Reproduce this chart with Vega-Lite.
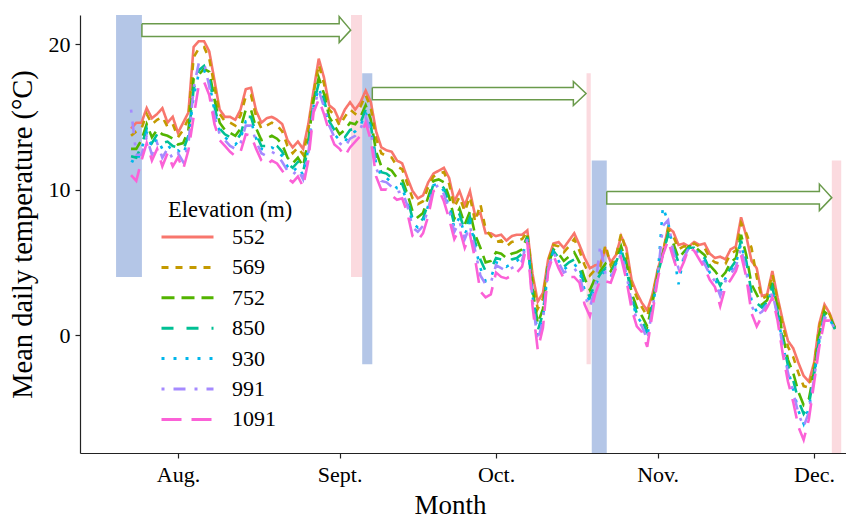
{
  "$schema": "https://vega.github.io/schema/vega-lite/v6.json",
  "width": 766,
  "height": 438,
  "autosize": {"type": "none"},
  "padding": {"left": 80, "top": 15, "right": 0, "bottom": 68},
  "background": "white",
  "config": {
    "view": {"stroke": null},
    "font": "Liberation Serif",
    "axis": {
      "grid": false,
      "domainColor": "#222",
      "tickColor": "#222",
      "domainWidth": 1.2,
      "tickWidth": 1.2,
      "tickSize": 5,
      "labelColor": "#000",
      "titleColor": "#000",
      "labelFont": "Liberation Serif",
      "titleFont": "Liberation Serif",
      "labelFontSize": 22,
      "titleFontSize": 27,
      "titleFontWeight": "normal"
    }
  },
  "datasets": {
    "temps": [
      {"date":"2019-07-23","552":14.2,"569":13.7,"752":12.8,"850":12.3,"930":12.0,"991":15.5,"1091":11.0},
      {"date":"2019-07-24","552":14.6,"569":14.0,"752":12.8,"850":12.2,"930":11.8,"991":12.4,"1091":10.6},
      {"date":"2019-07-25","552":14.6,"569":14.2,"752":13.4,"850":13.0,"930":12.8,"991":12.4,"1091":12.0},
      {"date":"2019-07-26","552":15.6,"569":15.2,"752":14.5,"850":14.2,"930":13.9,"991":13.6,"1091":13.2},
      {"date":"2019-07-27","552":14.9,"569":14.5,"752":13.6,"850":13.2,"930":12.9,"991":12.4,"1091":12.0},
      {"date":"2019-07-28","552":15.2,"569":14.8,"752":14.1,"850":13.8,"930":13.5,"991":13.2,"1091":12.8},
      {"date":"2019-07-29","552":15.6,"569":15.0,"752":13.8,"850":13.2,"930":12.8,"991":12.2,"1091":11.6},
      {"date":"2019-07-30","552":14.6,"569":14.3,"752":13.7,"850":13.3,"930":13.1,"991":12.8,"1091":12.5},
      {"date":"2019-07-31","552":15.0,"569":14.5,"752":13.5,"850":13.0,"930":12.6,"991":12.1,"1091":11.6},
      {"date":"2019-08-01","552":13.9,"569":13.6,"752":13.1,"850":12.9,"930":12.7,"991":12.5,"1091":12.2},
      {"date":"2019-08-02","552":14.6,"569":14.1,"752":13.2,"850":12.7,"930":12.4,"991":11.9,"1091":11.4},
      {"date":"2019-08-03","552":15.3,"569":14.9,"752":14.1,"850":13.7,"930":13.5,"991":13.1,"1091":12.7},
      {"date":"2019-08-04","552":19.8,"569":19.1,"752":17.6,"850":16.9,"930":16.4,"991":17.0,"1091":15.0},
      {"date":"2019-08-05","552":20.2,"569":19.7,"752":17.9,"850":18.2,"930":18.0,"991":18.7,"1091":17.2},
      {"date":"2019-08-06","552":20.2,"569":19.8,"752":18.3,"850":18.5,"930":18.2,"991":18.7,"1091":17.4},
      {"date":"2019-08-07","552":19.5,"569":19.0,"752":18.1,"850":17.7,"930":17.4,"991":17.1,"1091":16.5},
      {"date":"2019-08-08","552":17.5,"569":17.1,"752":16.2,"850":15.7,"930":15.4,"991":15.0,"1091":14.5},
      {"date":"2019-08-09","552":15.5,"569":15.2,"752":14.6,"850":14.2,"930":14.0,"991":13.8,"1091":13.4},
      {"date":"2019-08-10","552":15.0,"569":14.7,"752":14.1,"850":13.8,"930":13.6,"991":13.4,"1091":13.0},
      {"date":"2019-08-11","552":15.0,"569":14.6,"752":13.9,"850":13.6,"930":13.3,"991":13.0,"1091":12.6},
      {"date":"2019-08-12","552":14.8,"569":14.4,"752":13.7,"850":13.3,"930":13.1,"991":12.8,"1091":12.3},
      {"date":"2019-08-13","552":15.5,"569":15.1,"752":14.2,"850":13.8,"930":13.5,"991":13.2,"1091":12.6},
      {"date":"2019-08-14","552":16.9,"569":16.4,"752":15.5,"850":15.0,"930":14.7,"991":14.4,"1091":13.8},
      {"date":"2019-08-15","552":17.0,"569":16.5,"752":15.5,"850":15.0,"930":14.7,"991":14.4,"1091":13.7},
      {"date":"2019-08-16","552":15.4,"569":15.0,"752":14.2,"850":13.8,"930":13.5,"991":13.3,"1091":12.8},
      {"date":"2019-08-17","552":14.6,"569":14.2,"752":13.4,"850":13.0,"930":12.8,"991":12.5,"1091":12.0},
      {"date":"2019-08-18","552":14.9,"569":14.4,"752":13.5,"850":13.0,"930":12.7,"991":12.3,"1091":11.7},
      {"date":"2019-08-19","552":15.0,"569":14.6,"752":13.7,"850":13.2,"930":12.9,"991":12.6,"1091":12.0},
      {"date":"2019-08-20","552":14.8,"569":14.4,"752":13.5,"850":13.0,"930":12.7,"991":12.4,"1091":11.8},
      {"date":"2019-08-21","552":14.5,"569":14.0,"752":13.1,"850":12.6,"930":12.3,"991":11.9,"1091":11.3},
      {"date":"2019-08-22","552":13.4,"569":13.0,"752":12.2,"850":11.8,"930":11.6,"991":11.3,"1091":10.8},
      {"date":"2019-08-23","552":12.9,"569":12.5,"752":11.8,"850":11.5,"930":11.2,"991":11.0,"1091":10.5},
      {"date":"2019-08-24","552":13.3,"569":12.9,"752":12.2,"850":11.9,"930":11.6,"991":11.4,"1091":10.9},
      {"date":"2019-08-25","552":12.8,"569":12.4,"752":11.6,"850":11.2,"930":11.0,"991":10.7,"1091":10.2},
      {"date":"2019-08-26","552":14.5,"569":14.1,"752":13.4,"850":13.0,"930":12.8,"991":12.5,"1091":12.0},
      {"date":"2019-08-27","552":16.8,"569":16.6,"752":16.1,"850":15.9,"930":15.7,"991":15.6,"1091":15.3},
      {"date":"2019-08-28","552":19.0,"569":18.6,"752":17.7,"850":17.3,"930":17.0,"991":16.8,"1091":16.2},
      {"date":"2019-08-29","552":17.7,"569":17.3,"752":16.6,"850":16.2,"930":15.9,"991":15.7,"1091":15.2},
      {"date":"2019-08-30","552":15.8,"569":15.5,"752":15.0,"850":14.7,"930":14.5,"991":14.4,"1091":14.0},
      {"date":"2019-08-31","552":15.5,"569":15.1,"752":14.4,"850":14.1,"930":13.8,"991":13.6,"1091":13.1},
      {"date":"2019-09-01","552":14.7,"569":14.4,"752":13.8,"850":13.6,"930":13.4,"991":13.2,"1091":12.8},
      {"date":"2019-09-02","552":15.5,"569":15.0,"752":14.1,"850":13.6,"930":13.3,"991":12.9,"1091":12.3},
      {"date":"2019-09-03","552":16.0,"569":15.5,"752":14.6,"850":14.1,"930":13.8,"991":13.5,"1091":12.9},
      {"date":"2019-09-04","552":15.5,"569":15.2,"752":14.5,"850":14.2,"930":14.0,"991":13.7,"1091":13.3},
      {"date":"2019-09-05","552":16.0,"569":15.7,"752":15.0,"850":14.6,"930":14.4,"991":14.2,"1091":13.7},
      {"date":"2019-09-06","552":16.8,"569":16.5,"752":15.8,"850":15.5,"930":15.3,"991":15.0,"1091":14.6},
      {"date":"2019-09-07","552":16.0,"569":15.6,"752":14.8,"850":14.4,"930":14.2,"991":13.9,"1091":13.4},
      {"date":"2019-09-08","552":14.0,"569":13.5,"752":12.6,"850":12.1,"930":11.8,"991":11.5,"1091":10.9},
      {"date":"2019-09-09","552":12.9,"569":12.5,"752":11.6,"850":11.2,"930":10.9,"991":10.6,"1091":10.0},
      {"date":"2019-09-10","552":12.7,"569":12.3,"752":11.5,"850":11.1,"930":10.8,"991":10.5,"1091":10.0},
      {"date":"2019-09-11","552":12.6,"569":12.2,"752":11.3,"850":10.8,"930":10.5,"991":10.2,"1091":9.6},
      {"date":"2019-09-12","552":12.0,"569":11.6,"752":10.8,"850":10.4,"930":10.1,"991":9.8,"1091":9.3},
      {"date":"2019-09-13","552":11.8,"569":11.4,"752":10.7,"850":10.4,"930":10.1,"991":9.9,"1091":9.4},
      {"date":"2019-09-14","552":10.8,"569":10.4,"752":9.7,"850":9.4,"930":9.1,"991":8.9,"1091":8.4},
      {"date":"2019-09-15","552":9.9,"569":9.4,"752":8.5,"850":8.0,"930":7.7,"991":7.4,"1091":6.8},
      {"date":"2019-09-16","552":9.4,"569":9.0,"752":8.1,"850":7.7,"930":7.4,"991":7.1,"1091":6.5},
      {"date":"2019-09-17","552":9.6,"569":9.2,"752":8.4,"850":8.0,"930":7.8,"991":7.5,"1091":7.0},
      {"date":"2019-09-18","552":10.5,"569":10.2,"752":9.5,"850":9.1,"930":8.9,"991":8.7,"1091":8.2},
      {"date":"2019-09-19","552":11.1,"569":10.9,"752":10.6,"850":10.4,"930":10.3,"991":10.1,"1091":9.9},
      {"date":"2019-09-20","552":11.3,"569":11.1,"752":10.7,"850":10.5,"930":10.4,"991":10.3,"1091":10.0},
      {"date":"2019-09-21","552":11.5,"569":11.2,"752":10.5,"850":10.1,"930":9.9,"991":9.7,"1091":9.2},
      {"date":"2019-09-22","552":10.8,"569":10.4,"752":9.5,"850":9.1,"930":8.8,"991":8.6,"1091":8.0},
      {"date":"2019-09-23","552":9.2,"569":8.8,"752":8.0,"850":7.6,"930":7.4,"991":7.1,"1091":6.6},
      {"date":"2019-09-24","552":9.9,"569":9.5,"752":8.7,"850":8.3,"930":8.1,"991":7.8,"1091":7.3},
      {"date":"2019-09-25","552":8.9,"569":8.5,"752":7.6,"850":7.2,"930":6.9,"991":6.6,"1091":6.0},
      {"date":"2019-09-26","552":9.9,"569":9.5,"752":8.5,"850":8.1,"930":7.8,"991":7.5,"1091":6.9},
      {"date":"2019-09-27","552":8.2,"569":7.8,"752":6.9,"850":6.4,"930":6.1,"991":5.8,"1091":5.2},
      {"date":"2019-09-28","552":8.4,"569":9.0,"752":6.0,"850":5.2,"930":4.6,"991":4.1,"1091":3.0},
      {"date":"2019-09-29","552":7.0,"569":7.3,"752":5.0,"850":4.4,"930":3.7,"991":3.5,"1091":2.6},
      {"date":"2019-09-30","552":7.0,"569":6.8,"752":5.1,"850":4.5,"930":3.9,"991":3.6,"1091":2.8},
      {"date":"2019-10-01","552":6.8,"569":6.4,"752":5.7,"850":5.3,"930":5.0,"991":4.8,"1091":4.3},
      {"date":"2019-10-02","552":6.9,"569":6.5,"752":5.6,"850":5.2,"930":4.9,"991":4.6,"1091":4.0},
      {"date":"2019-10-03","552":6.5,"569":6.1,"752":5.3,"850":4.9,"930":4.7,"991":4.4,"1091":3.9},
      {"date":"2019-10-04","552":6.8,"569":6.4,"752":5.6,"850":5.2,"930":4.9,"991":4.6,"1091":4.1},
      {"date":"2019-10-05","552":6.9,"569":6.5,"752":5.7,"850":5.3,"930":5.1,"991":4.8,"1091":4.3},
      {"date":"2019-10-06","552":6.9,"569":6.6,"752":5.9,"850":5.6,"930":5.4,"991":5.1,"1091":4.7},
      {"date":"2019-10-07","552":7.2,"569":7.1,"752":6.8,"850":6.7,"930":6.6,"991":6.6,"1091":6.4},
      {"date":"2019-10-08","552":4.2,"569":3.9,"752":3.2,"850":2.9,"930":2.7,"991":2.4,"1091":2.0},
      {"date":"2019-10-09","552":2.3,"569":1.8,"752":0.8,"850":0.3,"930":0.0,"991":-0.4,"1091":-1.0},
      {"date":"2019-10-10","552":2.9,"569":2.5,"752":1.8,"850":1.5,"930":1.2,"991":1.0,"1091":0.5},
      {"date":"2019-10-11","552":5.2,"569":5.1,"752":4.8,"850":4.7,"930":4.6,"991":4.6,"1091":4.4},
      {"date":"2019-10-12","552":6.3,"569":6.2,"752":5.9,"850":5.8,"930":5.7,"991":5.7,"1091":5.5},
      {"date":"2019-10-13","552":6.4,"569":6.1,"752":5.6,"850":5.3,"930":5.1,"991":5.0,"1091":4.6},
      {"date":"2019-10-14","552":6.0,"569":5.7,"752":5.1,"850":4.7,"930":4.5,"991":4.3,"1091":3.9},
      {"date":"2019-10-15","552":6.5,"569":6.1,"752":5.4,"850":5.0,"930":4.8,"991":4.5,"1091":4.0},
      {"date":"2019-10-16","552":7.0,"569":6.6,"752":5.7,"850":5.2,"930":4.9,"991":4.6,"1091":4.0},
      {"date":"2019-10-17","552":6.2,"569":5.8,"752":5.0,"850":4.6,"930":4.4,"991":4.1,"1091":3.6},
      {"date":"2019-10-18","552":5.3,"569":4.8,"752":3.9,"850":3.4,"930":3.1,"991":2.7,"1091":2.1},
      {"date":"2019-10-19","552":4.6,"569":4.1,"752":3.1,"850":2.6,"930":2.3,"991":1.9,"1091":1.3},
      {"date":"2019-10-20","552":4.8,"569":4.5,"752":3.9,"850":3.6,"930":3.4,"991":3.2,"1091":2.8},
      {"date":"2019-10-21","552":4.9,"569":4.7,"752":4.4,"850":4.2,"930":4.1,"991":6.2,"1091":3.8},
      {"date":"2019-10-22","552":5.9,"569":6.2,"752":4.9,"850":4.6,"930":4.4,"991":4.1,"1091":3.7},
      {"date":"2019-10-23","552":5.0,"569":4.8,"752":4.4,"850":4.2,"930":4.0,"991":3.9,"1091":3.6},
      {"date":"2019-10-24","552":5.5,"569":5.4,"752":5.1,"850":5.0,"930":4.9,"991":4.8,"1091":4.6},
      {"date":"2019-10-25","552":6.8,"569":7.0,"752":6.1,"850":5.9,"930":5.7,"991":5.6,"1091":5.3},
      {"date":"2019-10-26","552":6.0,"569":5.7,"752":5.0,"850":4.7,"930":4.4,"991":4.2,"1091":3.8},
      {"date":"2019-10-27","552":3.8,"569":3.5,"752":2.9,"850":2.6,"930":2.4,"991":2.2,"1091":1.8},
      {"date":"2019-10-28","552":2.9,"569":2.6,"752":1.9,"850":1.5,"930":1.3,"991":1.1,"1091":0.6},
      {"date":"2019-10-29","552":2.2,"569":1.9,"752":1.3,"850":1.0,"930":0.8,"991":0.6,"1091":0.2},
      {"date":"2019-10-30","552":1.7,"569":1.3,"752":0.6,"850":0.2,"930":-0.1,"991":-0.3,"1091":-0.8},
      {"date":"2019-10-31","552":2.8,"569":2.6,"752":2.2,"850":2.0,"930":1.9,"991":1.8,"1091":1.5},
      {"date":"2019-11-01","552":4.5,"569":4.4,"752":4.2,"850":4.1,"930":4.0,"991":4.0,"1091":3.8},
      {"date":"2019-11-02","552":5.7,"569":5.7,"752":5.6,"850":5.6,"930":8.8,"991":7.5,"1091":5.5},
      {"date":"2019-11-03","552":7.4,"569":7.3,"752":7.0,"850":6.9,"930":7.8,"991":7.9,"1091":6.5},
      {"date":"2019-11-04","552":7.1,"569":6.8,"752":6.3,"850":6.0,"930":5.8,"991":5.7,"1091":5.3},
      {"date":"2019-11-05","552":6.2,"569":5.9,"752":5.3,"850":5.0,"930":3.5,"991":4.6,"1091":4.2},
      {"date":"2019-11-06","552":6.3,"569":6.1,"752":5.7,"850":5.5,"930":5.4,"991":5.3,"1091":5.0},
      {"date":"2019-11-07","552":6.1,"569":6.1,"752":6.1,"850":6.0,"930":6.0,"991":6.0,"1091":6.0},
      {"date":"2019-11-08","552":6.4,"569":6.3,"752":6.1,"850":6.0,"930":6.0,"991":5.9,"1091":5.8},
      {"date":"2019-11-09","552":6.2,"569":6.1,"752":5.8,"850":5.6,"930":5.5,"991":5.4,"1091":5.2},
      {"date":"2019-11-10","552":6.3,"569":6.0,"752":5.5,"850":5.3,"930":5.1,"991":4.9,"1091":4.6},
      {"date":"2019-11-11","552":5.6,"569":5.3,"752":4.8,"850":4.5,"930":4.3,"991":4.2,"1091":3.8},
      {"date":"2019-11-12","552":5.3,"569":5.0,"752":4.4,"850":4.1,"930":3.9,"991":3.7,"1091":3.3},
      {"date":"2019-11-13","552":5.4,"569":4.9,"752":3.9,"850":3.4,"930":3.0,"991":2.7,"1091":2.0},
      {"date":"2019-11-14","552":5.2,"569":4.9,"752":4.3,"850":4.1,"930":3.9,"991":3.7,"1091":3.3},
      {"date":"2019-11-15","552":5.9,"569":5.6,"752":5.0,"850":4.6,"930":4.4,"991":4.2,"1091":3.8},
      {"date":"2019-11-16","552":6.1,"569":5.8,"752":5.3,"850":5.1,"930":4.9,"991":4.7,"1091":4.4},
      {"date":"2019-11-17","552":8.1,"569":7.7,"752":6.9,"850":6.5,"930":6.3,"991":6.0,"1091":5.5},
      {"date":"2019-11-18","552":6.8,"569":7.0,"752":5.5,"850":5.1,"930":4.7,"991":4.4,"1091":4.0},
      {"date":"2019-11-19","552":5.1,"569":6.0,"752":3.5,"850":2.9,"930":2.4,"991":2.0,"1091":1.5},
      {"date":"2019-11-20","552":4.6,"569":4.0,"752":2.8,"850":2.2,"930":1.6,"991":1.4,"1091":0.6},
      {"date":"2019-11-21","552":2.7,"569":2.5,"752":2.1,"850":1.9,"930":1.7,"991":1.6,"1091":1.3},
      {"date":"2019-11-22","552":2.8,"569":2.7,"752":2.4,"850":2.3,"930":2.2,"991":2.1,"1091":1.9},
      {"date":"2019-11-23","552":4.4,"569":4.2,"752":3.6,"850":3.3,"930":3.1,"991":2.9,"1091":2.6},
      {"date":"2019-11-24","552":2.6,"569":2.4,"752":1.9,"850":1.6,"930":1.4,"991":1.3,"1091":1.0},
      {"date":"2019-11-25","552":1.0,"569":0.7,"752":0.0,"850":-0.4,"930":-0.6,"991":-0.8,"1091":-1.3},
      {"date":"2019-11-26","552":-0.4,"569":-0.8,"752":-1.7,"850":-2.1,"930":-2.4,"991":-2.6,"1091":-3.2},
      {"date":"2019-11-27","552":-0.9,"569":-1.5,"752":-2.6,"850":-3.1,"930":-3.7,"991":-3.9,"1091":-4.6},
      {"date":"2019-11-28","552":-1.9,"569":-2.6,"752":-3.9,"850":-4.5,"930":-5.2,"991":-5.4,"1091":-6.3},
      {"date":"2019-11-29","552":-2.8,"569":-3.5,"752":-4.8,"850":-5.4,"930":-6.1,"991":-6.3,"1091":-7.2},
      {"date":"2019-11-30","552":-3.2,"569":-3.6,"752":-4.4,"850":-4.8,"930":-5.0,"991":-5.3,"1091":-5.8},
      {"date":"2019-12-01","552":-1.9,"569":-2.1,"752":-2.5,"850":-2.7,"930":-2.9,"991":-3.0,"1091":-3.3},
      {"date":"2019-12-02","552":0.8,"569":0.6,"752":0.1,"850":-0.2,"930":-0.4,"991":-0.5,"1091":-0.8},
      {"date":"2019-12-03","552":2.1,"569":1.9,"752":1.6,"850":1.4,"930":1.3,"991":1.2,"1091":1.0},
      {"date":"2019-12-04","552":1.5,"569":1.4,"752":1.3,"850":1.2,"930":1.1,"991":1.1,"1091":1.0},
      {"date":"2019-12-05","552":0.5,"569":0.5,"752":0.5,"850":0.4,"930":0.4,"991":0.4,"1091":0.4}
    ],
    "bands": [
      {"kind":"start","start":"2019-07-20T03:00:00Z","end":"2019-07-25T02:00:00Z","lo":4.0,"hi":22.0},
      {"kind":"end","start":"2019-09-03T04:30:00Z","end":"2019-09-05T07:00:00Z","lo":4.0,"hi":22.0},
      {"kind":"start","start":"2019-09-05T08:00:00Z","end":"2019-09-07T06:30:00Z","lo":-2.0,"hi":18.0},
      {"kind":"end","start":"2019-10-18T08:40:00Z","end":"2019-10-19T04:00:00Z","lo":-2.0,"hi":18.0},
      {"kind":"start","start":"2019-10-19T08:40:00Z","end":"2019-10-22T05:45:00Z","lo":-8.1,"hi":12.0},
      {"kind":"end","start":"2019-12-04T09:40:00Z","end":"2019-12-06T05:00:00Z","lo":-8.1,"hi":12.0}
    ],
    "arrows": [
      {"arrow":"a1","pt":0,"date":"2019-07-25T02:00:00Z","temp":21.40},
      {"arrow":"a1","pt":1,"date":"2019-08-31T22:00:00Z","temp":21.40},
      {"arrow":"a1","pt":2,"date":"2019-08-31T22:00:00Z","temp":21.90},
      {"arrow":"a1","pt":3,"date":"2019-09-03T03:00:00Z","temp":20.96},
      {"arrow":"a1","pt":4,"date":"2019-08-31T22:00:00Z","temp":20.11},
      {"arrow":"a1","pt":5,"date":"2019-08-31T22:00:00Z","temp":20.52},
      {"arrow":"a1","pt":6,"date":"2019-07-25T02:00:00Z","temp":20.52},
      {"arrow":"a1","pt":7,"date":"2019-07-25T02:00:00Z","temp":21.40},
      {"arrow":"a2","pt":0,"date":"2019-09-07T06:30:00Z","temp":17.02},
      {"arrow":"a2","pt":1,"date":"2019-10-15T20:00:00Z","temp":17.02},
      {"arrow":"a2","pt":2,"date":"2019-10-15T20:00:00Z","temp":17.43},
      {"arrow":"a2","pt":3,"date":"2019-10-18T06:30:00Z","temp":16.60},
      {"arrow":"a2","pt":4,"date":"2019-10-15T20:00:00Z","temp":15.78},
      {"arrow":"a2","pt":5,"date":"2019-10-15T20:00:00Z","temp":16.17},
      {"arrow":"a2","pt":6,"date":"2019-09-07T06:30:00Z","temp":16.17},
      {"arrow":"a2","pt":7,"date":"2019-09-07T06:30:00Z","temp":17.02},
      {"arrow":"a3","pt":0,"date":"2019-10-22T05:45:00Z","temp":9.87},
      {"arrow":"a3","pt":1,"date":"2019-12-02T00:30:00Z","temp":9.87},
      {"arrow":"a3","pt":2,"date":"2019-12-02T00:30:00Z","temp":10.38},
      {"arrow":"a3","pt":3,"date":"2019-12-04T09:40:00Z","temp":9.45},
      {"arrow":"a3","pt":4,"date":"2019-12-02T00:30:00Z","temp":8.56},
      {"arrow":"a3","pt":5,"date":"2019-12-02T00:30:00Z","temp":9.02},
      {"arrow":"a3","pt":6,"date":"2019-10-22T05:45:00Z","temp":9.02},
      {"arrow":"a3","pt":7,"date":"2019-10-22T05:45:00Z","temp":9.87}
    ]
  },
  "layer": [
    {
      "data": {"name": "bands"},
      "mark": {"type": "rect"},
      "encoding": {
        "x": {"field": "start", "type": "temporal", "scale": {"type": "utc"}, "title": "Month"},
        "x2": {"field": "end"},
        "y": {"field": "lo", "type": "quantitative", "title": "Mean daily temperature (°C)"},
        "y2": {"field": "hi"},
        "fill": {"field": "kind", "type": "nominal", "scale": {"domain": ["start", "end"], "range": ["#b4c6e7", "#fbdadf"]}, "legend": null}
      }
    },
    {
      "data": {"name": "temps"},
      "transform": [{"fold": ["552", "569", "752", "850", "930", "991", "1091"], "as": ["elevation", "temp"]}],
      "mark": {"type": "line", "strokeWidth": 2.6, "strokeCap": "butt"},
      "encoding": {
        "x": {
          "field": "date", "type": "temporal", "title": "Month",
          "scale": {"type": "utc", "domain": [{"year": 2019, "month": 7, "date": 13, "hours": 5, "utc": true}, {"year": 2019, "month": 12, "date": 7, "hours": 3, "utc": true}]},
          "axis": {
            "values": [
              {"year": 2019, "month": 8, "date": 1, "utc": true},
              {"year": 2019, "month": 9, "date": 1, "utc": true},
              {"year": 2019, "month": 10, "date": 1, "utc": true},
              {"year": 2019, "month": 11, "date": 1, "utc": true},
              {"year": 2019, "month": 12, "date": 1, "utc": true}
            ],
            "labelExpr": "['Jan.','Feb.','Mar.','Apr.','May','Jun.','Jul.','Aug.','Sept.','Oct.','Nov.','Dec.'][utcmonth(datum.value)]",
            "labelPadding": 6,
            "labelOverlap": false,
            "labelFlush": false,
            "titlePadding": 7,
            "titleX": 370
          }
        },
        "y": {
          "field": "temp", "type": "quantitative", "title": "Mean daily temperature (°C)",
          "scale": {"domain": [-8.1, 22], "nice": false, "zero": false},
          "axis": {"values": [0, 10, 20], "labelPadding": 5, "titlePadding": 11, "titleFontSize": 28.5}
        },
        "color": {
          "field": "elevation", "type": "nominal",
          "scale": {"domain": ["552", "569", "752", "850", "930", "991", "1091"], "range": ["#F8766D", "#C49A00", "#53B400", "#00C094", "#00B6EB", "#A58AFF", "#FB61D7"]},
          "legend": {
            "orient": "none", "legendX": 88, "legendY": 184,
            "title": "Elevation (m)", "titleFont": "Liberation Serif", "titleFontSize": 22.5, "titleFontWeight": "normal", "titleColor": "#000", "titlePadding": 1,
            "labelFont": "Liberation Serif", "labelFontSize": 22, "labelColor": "#000", "labelOffset": 30, "labelLimit": 200,
            "symbolType": "M-2,0H2", "symbolSize": 676, "symbolStrokeWidth": 3, "symbolOffset": 5,
            "rowPadding": 4.4, "padding": 0, "zindex": 2
          }
        },
        "strokeDash": {
          "field": "elevation", "type": "nominal",
          "scale": {"domain": ["552", "569", "752", "850", "930", "991", "1091"], "range": [[1, 0], [7, 7], [13, 7], [12, 13], [3, 9], [3, 9, 12, 9], [20, 10]]}
        }
      }
    },
    {
      "data": {"name": "arrows"},
      "mark": {"type": "line", "color": "#6a9a4b", "strokeWidth": 1.5, "strokeJoin": "miter"},
      "encoding": {
        "x": {"field": "date", "type": "temporal", "scale": {"type": "utc"}, "title": "Month"},
        "y": {"field": "temp", "type": "quantitative", "title": "Mean daily temperature (°C)"},
        "detail": {"field": "arrow", "type": "nominal"},
        "order": {"field": "pt", "type": "quantitative"}
      }
    }
  ]
}
